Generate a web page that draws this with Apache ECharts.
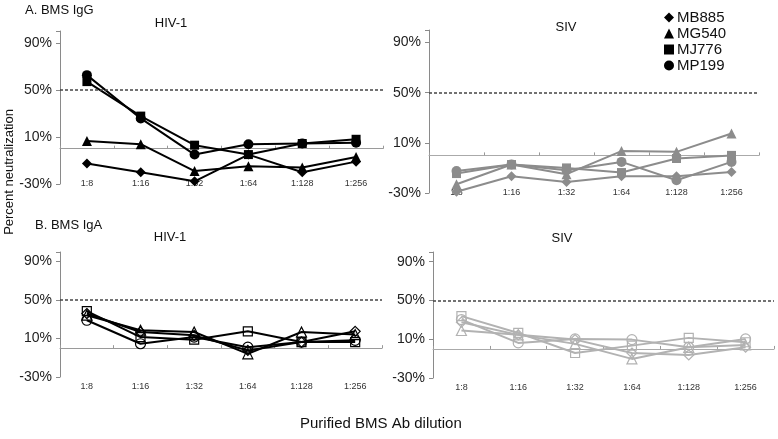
<!DOCTYPE html>
<html>
<head>
<meta charset="utf-8">
<script src="https://cdn.jsdelivr.net/npm/echarts@6/dist/echarts.min.js"></script>
<style>
html,body{margin:0;padding:0;background:#fff;}
#chart{width:778px;height:439px;}
</style>
</head>
<body>
<div id="chart"></div>
<script>
// ---- data ----
var dilutions = ['1:8', '1:16', '1:32', '1:64', '1:128', '1:256'];
var animals = ['MB885', 'MG540', 'MJ776', 'MP199'];
var yTickValues = [-30, 10, 50, 90];
var threshold = 50;

// A. BMS IgG, HIV-1
var iggHiv_MB885 = [-12.6, -20, -27.7, -5, -20, -11];
var iggHiv_MG540 = [6.6, 3.8, -19, -15, -16, -7];
var iggHiv_MJ776 = [57, 27.7, 3, -5, 4.4, 8];
var iggHiv_MP199 = [62.5, 25.7, -5, 3.8, 4.4, 5];

// A. BMS IgG, SIV
var iggSiv_MB885 = [-29, -16.6, -21.2, -16.6, -16.6, -13.2];
var iggSiv_MG540 = [-23, -7.3, -15, 3.4, 2.8, 17.5];
var iggSiv_MJ776 = [-14.5, -7.3, -10, -13.7, -2.5, 0];
var iggSiv_MP199 = [-12.4, -7.3, -11.8, -5.2, -19.8, -5.2];

// B. BMS IgA, HIV-1
var igaHiv_MB885 = [36, 16.8, 13.3, -2.4, 6.3, 17.5];
var igaHiv_MG540 = [34.3, 18.6, 16.8, -5.9, 16.8, 14.1];
var igaHiv_MJ776 = [38.5, 11.5, 8.8, 17.5, 6.3, 6.3];
var igaHiv_MP199 = [29, 4.6, 11.5, 1, 6.3, 8.1];

// B. BMS IgA, SIV
var igaSiv_MB885 = [27.6, 14.5, 9.6, -4.2, -6.2, 1.7];
var igaSiv_MG540 = [19, 14.5, 5.2, -10.3, 1.7, 4.1];
var igaSiv_MJ776 = [33.8, 16.5, -4.2, 3.4, 11.4, 6.9];
var igaSiv_MP199 = [30.3, 6.2, 10.3, 9.6, 1.7, 10.3];

var panelData = [
  [iggHiv_MB885, iggHiv_MG540, iggHiv_MJ776, iggHiv_MP199],
  [iggSiv_MB885, iggSiv_MG540, iggSiv_MJ776, iggSiv_MP199],
  [igaHiv_MB885, igaHiv_MG540, igaHiv_MJ776, igaHiv_MP199],
  [igaSiv_MB885, igaSiv_MG540, igaSiv_MJ776, igaSiv_MP199]
];

// ---- styling ----
var FONT = 'Liberation Sans, Arial, sans-serif';
var symbols = ['diamond', 'triangle', 'rect', 'circle'];
var symSizes = [10, 10, 9, 10];
var grids = [
  {left: 60, top: 31, width: 323, height: 153},
  {left: 429, top: 30, width: 330, height: 163},
  {left: 60, top: 252, width: 322, height: 125},
  {left: 433, top: 252, width: 341, height: 126}
];
var lineColors = ['#000000', '#8c8c8c', '#000000', '#b2b2b2'];
var filled = [true, true, false, false];
var zeroLineColors = ['#9a9a9a', '#aaaaaa', '#9a9a9a', '#aaaaaa'];

var xAxes = [], yAxes = [], series = [];
grids.forEach(function (g, i) {
  var top = i < 2;
  xAxes.push({
    type: 'category', gridIndex: i, data: dilutions, boundaryGap: true,
    position: 'bottom',
    axisLine: {show: false, onZero: false},
    axisTick: {show: false},
    axisLabel: top ? {fontSize: 9, color: '#333', fontFamily: FONT, margin: 0, verticalAlign: 'middle'}
                   : {fontSize: 9, color: '#333', fontFamily: FONT, margin: 5}
  });
  xAxes.push({
    type: 'category', gridIndex: i, data: dilutions, boundaryGap: true,
    position: 'bottom',
    axisLine: {show: true, onZero: true, lineStyle: {color: zeroLineColors[i], width: 1}},
    axisTick: {show: true, inside: true, length: 3, lineStyle: {color: '#999'}},
    axisLabel: {show: false}
  });
  yAxes.push({
    type: 'value', gridIndex: i, min: -30, max: 100, interval: 40,
    axisLine: {show: true, lineStyle: {color: '#8a8a8a'}},
    axisTick: {show: true, length: 4, lineStyle: {color: '#8a8a8a'}},
    splitLine: {show: false},
    axisLabel: {
      fontSize: 14, color: '#222', fontFamily: FONT, margin: 8,
      formatter: function (v) { return yTickValues.indexOf(v) >= 0 ? v + '%' : ''; }
    }
  });
  animals.forEach(function (name, s) {
    var ser = {
      type: 'line', name: name,
      xAxisIndex: 2 * i, yAxisIndex: i,
      data: panelData[i][s],
      symbol: symbols[s], symbolSize: symSizes[s],
      showAllSymbol: true,
      lineStyle: {color: lineColors[i], width: 2},
      itemStyle: filled[i]
        ? {color: lineColors[i], borderColor: lineColors[i], borderWidth: 0}
        : {color: 'rgba(255,255,255,0)', borderColor: lineColors[i], borderWidth: 1.2},
      animation: false,
      emphasis: {disabled: true}
    };
    if (s === 0) {
      ser.markLine = {
        silent: true, symbol: 'none', animation: false,
        label: {show: false},
        lineStyle: {color: '#444', type: [3, 2], width: 1.5},
        data: [{yAxis: threshold}]
      };
    }
    series.push(ser);
  });
});

function txt(str, x, y, size, align, rot) {
  return {
    type: 'text', x: x, y: y, rotation: rot || 0,
    style: {text: str, fontSize: size, fontFamily: FONT, fill: '#111',
            textAlign: align || 'left', textVerticalAlign: 'middle'}
  };
}

var option = {
  animation: false,
  grid: grids,
  xAxis: xAxes,
  yAxis: yAxes,
  series: series,
  legend: {
    orient: 'vertical', left: 659, top: 5,
    itemWidth: 10, itemHeight: 10, itemGap: 1,
    selectedMode: false,
    textStyle: {fontSize: 15, color: '#111', fontFamily: FONT, lineHeight: 15, padding: [0, 0, 0, -2]},
    data: animals.map(function (n, s) {
      return {name: n, icon: symbols[s], itemStyle: {color: '#000'}};
    })
  },
  graphic: [
    txt('A. BMS IgG', 25, 10, 13),
    txt('HIV-1', 171, 23, 13, 'center'),
    txt('SIV', 566, 27, 13, 'center'),
    txt('B. BMS IgA', 35, 225, 13),
    txt('HIV-1', 170, 237, 13, 'center'),
    txt('SIV', 562, 238, 13, 'center'),
    txt('Purified BMS Ab dilution', 300, 424, 15),
    txt('Percent neutralization', 9, 172, 13, 'center', Math.PI / 2)
  ]
};

var chart = echarts.init(document.getElementById('chart'), null, {renderer: 'canvas'});
chart.setOption(option);
</script>
</body>
</html>
